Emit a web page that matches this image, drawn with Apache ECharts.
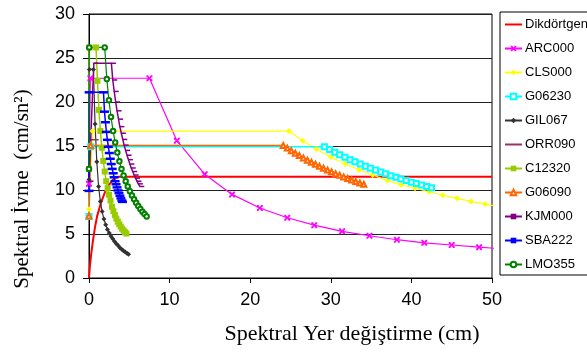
<!DOCTYPE html>
<html><head><meta charset="utf-8">
<script src="https://cdn.jsdelivr.net/npm/echarts/dist/echarts.min.js"></script>
<style>html,body{margin:0;padding:0;background:#fff}#c{width:587px;height:354px}</style>
</head><body><div id="c"></div><script>
// ---- data (x = spectral displacement cm, y = spectral acceleration) ----
const seriesNames = ['Dikdörtgen','ARC000','CLS000','G06230','GIL067','ORR090','C12320','G06090','KJM000','SBA222','LMO355'];
const xTicks = [0, 10, 20, 30, 40, 50];
const yTicks = [0, 5, 10, 15, 20, 25, 30];

const dikX = [0, 0.08, 0.17, 0.3, 0.5, 0.75, 1.0, 1.25, 1.5, 1.75, 2.0, 2.25, 2.5, 2.75, 3.0, 3.3, 3.7, 50];
const dikY = [0, 1.0, 1.9, 2.9, 4.3, 5.8, 7.0, 7.8, 8.6, 9.2, 9.8, 10.2, 10.6, 10.9, 11.2, 11.4, 11.5, 11.5];

const arcX = [0, 0.17, 7.5, 10.9, 14.35, 17.75, 21.2, 24.6, 27.95, 31.4, 34.8, 38.2, 41.6, 45.0, 48.4, 51.8];
const arcY = [10.7, 22.7, 22.7, 15.6, 11.8, 9.5, 7.95, 6.85, 6.0, 5.3, 4.8, 4.35, 4.0, 3.75, 3.5, 3.28];

const clsX = [0, 0.45, 24.8, 26.5, 28.2, 30.0, 31.8, 33.5, 35.2, 37.0, 38.7, 40.45, 42.2, 43.9, 45.65, 47.4, 49.15, 50.9];
const clsY = [7.8, 16.7, 16.7, 15.6, 14.65, 13.75, 12.95, 12.3, 11.7, 11.1, 10.6, 10.2, 9.8, 9.4, 9.05, 8.7, 8.4, 8.1];

const g230X = [0, 0.2, 29.2, 29.85, 30.5, 31.1, 31.75, 32.4, 33.0, 33.65, 34.3, 34.9, 35.55, 36.2, 36.8, 37.45, 38.1, 38.7, 39.35, 40.0, 40.6, 41.25, 41.9, 42.5];
const g230Y = [7.0, 14.92, 14.92, 14.6, 14.29, 14.01, 13.72, 13.45, 13.2, 12.95, 12.7, 12.48, 12.26, 12.04, 11.84, 11.63, 11.44, 11.26, 11.07, 10.89, 10.73, 10.56, 10.4, 10.25];

const gilX = [0, 0.05, 0.55, 0.75, 0.97, 1.19, 1.41, 1.63, 1.85, 2.07, 2.29, 2.51, 2.73, 2.95, 3.17, 3.39, 3.61, 3.83, 4.05, 4.27, 4.49, 4.71, 4.9];
const gilY = [11.2, 23.7, 23.7, 17.5, 13.2, 10.4, 8.7, 7.55, 6.7, 6.05, 5.5, 5.1, 4.75, 4.45, 4.15, 3.9, 3.7, 3.45, 3.27, 3.1, 2.95, 2.8, 2.7];

const orrX = [0, 0.2, 1.2];
const orrY = [10.4, 15.7, 15.7];

const c12X = [0, 0.05, 0.87, 1.05, 1.23, 1.41, 1.59, 1.77, 1.95, 2.13, 2.31, 2.49, 2.67, 2.85, 3.03, 3.21, 3.39, 3.57, 3.75, 3.93, 4.11, 4.29, 4.47, 4.65];
const c12Y = [12.4, 26.2, 26.2, 22.4, 19.1, 16.7, 14.8, 13.3, 12.1, 11.0, 10.2, 9.45, 8.8, 8.1, 7.6, 7.15, 6.75, 6.4, 6.1, 5.85, 5.6, 5.4, 5.2, 5.05];

const g090X = [0, 0.2, 24.1, 24.6, 25.1, 25.6, 26.1, 26.6, 27.1, 27.6, 28.1, 28.6, 29.1, 29.6, 30.1, 30.6, 31.1, 31.6, 32.1, 32.6, 33.1, 33.6, 34.1];
const g090Y = [7.05, 15.06, 15.06, 14.76, 14.46, 14.18, 13.91, 13.65, 13.39, 13.15, 12.92, 12.69, 12.47, 12.26, 12.06, 11.86, 11.67, 11.49, 11.31, 11.13, 10.97, 10.8, 10.65];

const kjmX = [0, 0.6, 2.78, 2.95, 3.13, 3.31, 3.48, 3.66, 3.83, 4.01, 4.19, 4.36, 4.54, 4.72, 4.89, 5.07, 5.24, 5.42, 5.6, 5.77, 5.95, 6.12, 6.3];
const kjmY = [11.0, 24.4, 24.4, 22.5, 21.2, 20.0, 19.0, 18.05, 17.2, 16.45, 15.75, 15.1, 14.5, 13.95, 13.45, 12.95, 12.5, 12.1, 11.7, 11.35, 11.0, 10.7, 10.4];

const sbaX = [0, 0.02, 1.8, 1.92, 2.04, 2.16, 2.28, 2.4, 2.52, 2.64, 2.76, 2.88, 3.0, 3.12, 3.24, 3.36, 3.48, 3.6, 3.72, 3.84, 3.96, 4.08, 4.15];
const sbaY = [9.9, 21.1, 21.1, 18.9, 17.7, 16.6, 15.7, 14.9, 14.2, 13.55, 12.95, 12.4, 11.9, 11.45, 11.0, 10.65, 10.3, 9.95, 9.65, 9.35, 9.05, 8.8, 8.65];

const lmoX = [0, 0.03, 1.95, 2.21, 2.47, 2.73, 2.99, 3.25, 3.51, 3.77, 4.03, 4.29, 4.55, 4.81, 5.07, 5.33, 5.59, 5.85, 6.11, 6.37, 6.63, 6.89, 7.15];
const lmoY = [12.4, 26.2, 26.2, 22.6, 20.2, 18.3, 16.7, 15.4, 14.25, 13.26, 12.4, 11.65, 11.0, 10.4, 9.86, 9.38, 8.94, 8.55, 8.18, 7.85, 7.54, 7.26, 7.0];

// ---- build chart ----
const zip = (xs, ys) => xs.map((x, i) => [x, ys[i]]);
const xMark = 'path://M0,0L2.5,0L5,3.2L7.5,0L10,0L10,2.5L6.8,5L10,7.5L10,10L7.5,10L5,6.8L2.5,10L0,10L0,7.5L3.2,5L0,2.5Z';

function mk(name, xs, ys, color, symbol, size, opts) {
  opts = opts || {};
  const s = {
    name: name, type: 'line', data: zip(xs, ys),
    symbol: symbol, symbolSize: size, showSymbol: symbol !== 'none',
    lineStyle: { color: color, width: opts.width || 1.2 },
    itemStyle: { color: color, borderWidth: opts.bw === undefined ? 1 : opts.bw },
    clip: true, animation: false, z: 2
  };
  if (opts.offset) s.symbolOffset = opts.offset;
  return s;
}

const series = [
  mk(seriesNames[0], dikX, dikY, '#ff0000', 'none', 0, { width: 2 }),
  mk(seriesNames[1], arcX, arcY, '#ff00ff', xMark, 6, { bw: 0 }),
  mk(seriesNames[2], clsX, clsY, '#ffff00', 'diamond', 6, { bw: 0 }),
  mk(seriesNames[3], g230X, g230Y, '#00ffff', 'emptyRect', 5, { width: 1.5, bw: 1.2 }),
  mk(seriesNames[4], gilX, gilY, '#333333', 'diamond', 5, { bw: 0 }),
  mk(seriesNames[5], orrX, orrY, '#993366', 'none', 0, { width: 1.5 }),
  mk(seriesNames[6], c12X, c12Y, '#99cc00', 'rect', 6, { width: 1.5, bw: 0 }),
  mk(seriesNames[7], g090X, g090Y, '#ff6600', 'emptyTriangle', 5, { width: 1.5, bw: 1.2 }),
  mk(seriesNames[8], kjmX, kjmY, '#800080', 'rect', [5, 1.5], { width: 1.5, bw: 0, offset: [2, 0] }),
  mk(seriesNames[9], sbaX, sbaY, '#0000ff', 'rect', [9, 2.5], { width: 1.5, bw: 0 }),
  mk(seriesNames[10], lmoX, lmoY, '#008000', 'emptyCircle', 4.5, { width: 1.2, bw: 1 })
];

const legendData = seriesNames.map((n, i) => (i === 0 || i === 5) ? { name: n, itemStyle: { opacity: 0 } } : { name: n });

const chart = echarts.init(document.getElementById('c'), null, { renderer: 'canvas' });
chart.setOption({
  animation: false,
  backgroundColor: '#fff',
  grid: { left: 89, right: 95, top: 14, bottom: 76, show: true, borderColor: '#000', borderWidth: 1, backgroundColor: 'transparent' },
  xAxis: {
    type: 'value', min: xTicks[0], max: xTicks[xTicks.length - 1], interval: 10,
    axisLine: { show: true, lineStyle: { color: '#000', width: 1 } },
    axisTick: { show: true, inside: false, length: 5, lineStyle: { color: '#000' } },
    splitLine: { show: false },
    axisLabel: { color: '#000', fontFamily: 'Liberation Sans', fontSize: 18, margin: 13 }
  },
  yAxis: {
    type: 'value', min: yTicks[0], max: yTicks[yTicks.length - 1], interval: 5,
    axisLine: { show: true, lineStyle: { color: '#000', width: 1 } },
    axisTick: { show: true, inside: false, length: 6, lineStyle: { color: '#000' } },
    splitLine: { show: true, lineStyle: { color: '#222', width: 1 } },
    axisLabel: { color: '#000', fontFamily: 'Liberation Sans', fontSize: 18, margin: 14 }
  },
  legend: {
    orient: 'vertical', left: 500, top: 12,
    itemWidth: 17, itemHeight: 7, itemGap: 11,
    padding: [6, 6, 4, 4],
    borderColor: '#000', borderWidth: 1, backgroundColor: '#fff',
    textStyle: { fontFamily: 'Liberation Sans', fontSize: 13, color: '#000', padding: [0, 0, 0, -2] },
    data: legendData
  },
  graphic: [
    { type: 'text', x: 352, y: 334, style: { text: 'Spektral Yer değiştirme (cm)', font: '22px "Liberation Serif"', fill: '#000', align: 'center', verticalAlign: 'middle' } },
    { type: 'text', x: 22, y: 189, rotation: Math.PI / 2, style: { text: 'Spektral İvme  (cm/sn²)', font: '21px "Liberation Serif"', fill: '#000', align: 'center', verticalAlign: 'middle' } }
  ],
  series: series
});
</script></body></html>
